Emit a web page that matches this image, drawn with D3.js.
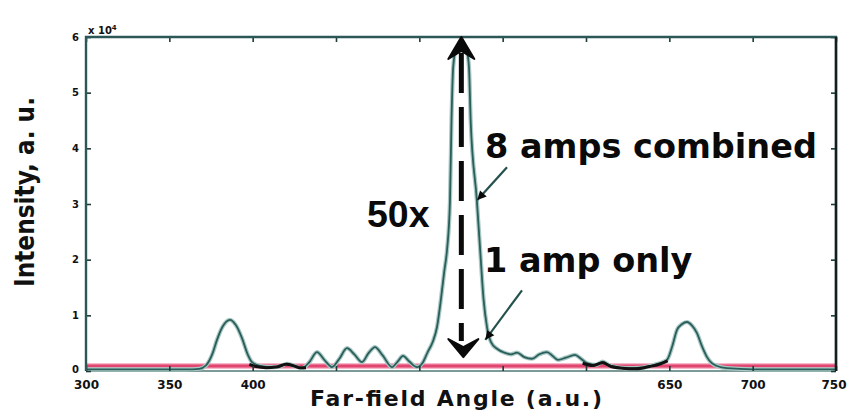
<!DOCTYPE html>
<html>
<head>
<meta charset="utf-8">
<script src="https://cdn.jsdelivr.net/npm/d3@7"></script>
<style>
  html, body { margin: 0; padding: 0; background: #ffffff; }
  svg { display: block; }
</style>
</head>
<body>
<svg id="chart" width="847" height="415"></svg>
<script>
// Far-field angle samples (a.u.) and intensity of the 8-amplifier combined beam (x 10^4)
const angles = [300, 330, 360, 368, 372, 376, 378.6, 382, 386.4, 390, 393.6, 397, 399.6, 404.4, 410, 416,
  420.6, 425, 429.6, 434, 438.6, 443, 447.6, 452, 456.6, 461, 465.6, 469.5, 473.4, 478, 483.6, 487,
  490.2, 494, 498.6, 502, 505, 508, 510.6, 513, 515, 516.6, 518.4, 519.3, 520.3, 522, 525.6, 528.5,
  529.8, 530.8, 534.5, 536.5, 538.5, 540.6, 543, 546.6, 551, 555, 558.6, 563, 567.6, 572, 576.6, 580,
  583.2, 588, 593.4, 597, 600.6, 606, 610, 614, 620, 628, 636, 642, 648.6, 651.6, 654.6, 657.5, 660.6,
  663.5, 666.6, 669.5, 672.6, 675.5, 678.6, 684.6, 700, 750];
const combined = [0.03, 0.03, 0.03, 0.04, 0.1, 0.32, 0.56, 0.8, 0.92, 0.82, 0.59, 0.3, 0.16, 0.09, 0.07, 0.08,
  0.13, 0.09, 0.05, 0.16, 0.34, 0.2, 0.07, 0.22, 0.41, 0.3, 0.16, 0.32, 0.43, 0.28, 0.07, 0.17,
  0.27, 0.17, 0.07, 0.15, 0.34, 0.52, 0.79, 1.3, 1.8, 2.17, 3.07, 4.5, 5.45, 5.78, 5.88, 5.75,
  5.45, 4.5, 3.07, 2.17, 1.3, 0.79, 0.52, 0.4, 0.33, 0.3, 0.33, 0.25, 0.22, 0.3, 0.34, 0.27,
  0.2, 0.24, 0.29, 0.22, 0.14, 0.11, 0.17, 0.1, 0.06, 0.05, 0.07, 0.12, 0.2, 0.43, 0.74, 0.84, 0.88,
  0.82, 0.68, 0.45, 0.25, 0.14, 0.09, 0.05, 0.03, 0.03];

// Single amplifier: flat, about 1/50 of the combined peak
const oneAmpAngles = [300, 750];
const oneAmp = [0.09, 0.09];

// Dark residual traces lying along the floor on either side of the main lobe
const residualLeftAngles = [398, 402, 408, 414, 420, 424, 428, 432];
const residualLeft = [0.12, 0.08, 0.06, 0.07, 0.12, 0.1, 0.06, 0.06];
const residualRightAngles = [598, 604, 610, 615, 622, 630, 638, 644, 649];
const residualRight = [0.14, 0.1, 0.15, 0.08, 0.05, 0.04, 0.08, 0.12, 0.18];

// Axes
const xTicks = [300, 350, 400, 450, 500, 550, 600, 650, 700, 750];
const xTickLabels = [300, 350, 400, 650, 700, 750];
const yTicks = [0, 1, 2, 3, 4, 5, 6];

// Annotation anchors (data units)
const arrowAngle = 525.2;
const arrowTop = 6;
const arrowBottom = 0.25;
const combinedPointer = { from: [552.6, 3.66], to: [534.8, 3.07] };
const singlePointer = { from: [561.6, 1.45], to: [539.6, 0.56] };

const svg = d3.select("#chart");
const plot = { left: 86, right: 836, top: 37, bottom: 371 };

const x = d3.scaleLinear().domain([300, 750]).range([plot.left, plot.right]);
const y = d3.scaleLinear().domain([0, 6]).range([plot.bottom, plot.top]);

const axisColor = "#2b5856";
const fontBold = "'DejaVu Sans', Verdana, sans-serif";

// ----- curves -----
const line = d3.line().x(d => x(d[0])).y(d => y(d[1])).curve(d3.curveMonotoneX);
const combinedPts = angles.map((a, i) => [a, combined[i]]);
const onePts = oneAmpAngles.map((a, i) => [a, oneAmp[i]]);

// bottom axis line (lighter, beneath the pink trace)
svg.append("line")
  .attr("x1", plot.left).attr("x2", plot.right)
  .attr("y1", plot.bottom).attr("y2", plot.bottom)
  .attr("stroke", "#7d9a98").attr("stroke-width", 2);

// 1 amp only trace
svg.append("path").datum(onePts).attr("d", line)
  .attr("fill", "none").attr("stroke", "#f2a2ba").attr("stroke-width", 5.5);
svg.append("path").datum(onePts).attr("d", line)
  .attr("fill", "none").attr("stroke", "#e2456f").attr("stroke-width", 3.2);

// 8 amps combined trace
svg.append("path").datum(combinedPts).attr("d", line)
  .attr("fill", "none").attr("stroke", "#a9c8c4").attr("stroke-width", 4.2)
  .attr("stroke-linejoin", "round");
svg.append("path").datum(combinedPts).attr("d", line)
  .attr("fill", "none").attr("stroke", "#2a5e5a").attr("stroke-width", 1.8)
  .attr("stroke-linejoin", "round");

// residual dark traces
[[residualLeftAngles, residualLeft], [residualRightAngles, residualRight]].forEach(([as, vs]) => {
  svg.append("path").datum(as.map((a, i) => [a, vs[i]])).attr("d", line)
    .attr("fill", "none").attr("stroke", "#111").attr("stroke-width", 3)
    .attr("stroke-linejoin", "round");
});

// ----- frame and ticks -----
const gx = svg.append("g").attr("transform", `translate(0,${plot.bottom})`)
  .call(d3.axisBottom(x).tickValues(xTicks).tickSizeInner(-5).tickSizeOuter(0).tickPadding(9)
    .tickFormat(d => xTickLabels.includes(d) ? d3.format("d")(d) : ""));
const gxt = svg.append("g").attr("transform", `translate(0,${plot.top})`)
  .call(d3.axisTop(x).tickValues(xTicks).tickSizeInner(-5).tickSizeOuter(0).tickFormat(""));
const gy = svg.append("g").attr("transform", `translate(${plot.left},0)`)
  .call(d3.axisLeft(y).tickValues(yTicks).tickSizeInner(-5).tickSizeOuter(0).tickPadding(7)
    .tickFormat(d3.format("d")));
const gyr = svg.append("g").attr("transform", `translate(${plot.right},0)`)
  .call(d3.axisRight(y).tickValues(yTicks).tickSizeInner(-5).tickSizeOuter(0).tickFormat(""));

[gx, gxt, gy, gyr].forEach(g => {
  g.select(".domain").remove();
  g.selectAll(".tick line").attr("stroke", "#1d3c3a").attr("stroke-width", 1.6);
});
gx.selectAll(".tick text").attr("font-family", fontBold).attr("font-weight", "bold")
  .attr("font-size", 12).attr("fill", "#111");
// the last label sits against the right edge
gx.selectAll(".tick").filter(d => d === 750).select("text")
  .attr("text-anchor", "end").attr("x", 10);
gy.selectAll(".tick text").attr("font-family", fontBold).attr("font-weight", "bold")
  .attr("font-size", 10).attr("fill", "#111");
gy.selectAll(".tick").filter(d => d === 0).select("text").attr("dy", "0.1em");

// left, top, right edges of the box
svg.append("path")
  .attr("d", `M${plot.left},${plot.bottom} V${plot.top} H${plot.right} V${plot.bottom}`)
  .attr("fill", "none").attr("stroke", axisColor).attr("stroke-width", 2.4);
svg.append("line")
  .attr("x1", plot.right).attr("x2", plot.right).attr("y1", plot.top).attr("y2", plot.bottom)
  .attr("stroke", "#141e1e").attr("stroke-width", 2.4);

// exponent label
const ex = svg.append("text").attr("x", plot.left + 2).attr("y", plot.top - 3)
  .attr("font-family", fontBold).attr("font-weight", "bold").attr("font-size", 10).attr("fill", "#111");
ex.append("tspan").text("x 10");
ex.append("tspan").attr("dy", -4).attr("font-size", 7).text("4");

// ----- 50x double arrow -----
const ax = x(arrowAngle);
const yTop = y(arrowTop), yBot = y(arrowBottom);
svg.append("line")
  .attr("x1", ax).attr("x2", ax).attr("y1", yTop + 16).attr("y2", yBot - 16)
  .attr("stroke", "#0a0a0a").attr("stroke-width", 5).attr("stroke-dasharray", "40,14");
svg.append("path")
  .attr("d", `M${ax},${yTop} L${ax + 13},${yTop + 22} L${ax},${yTop + 14} L${ax - 13},${yTop + 22} Z`)
  .attr("fill", "#0a0a0a").attr("stroke", "#0a0a0a").attr("stroke-width", 2).attr("stroke-linejoin", "round");
svg.append("path")
  .attr("d", `M${ax + 2},${yBot} L${ax + 17},${yBot - 18} L${ax + 2},${yBot - 10} L${ax - 13},${yBot - 18} Z`)
  .attr("fill", "#0a0a0a").attr("stroke", "#0a0a0a").attr("stroke-width", 2).attr("stroke-linejoin", "round");

// ----- pointers -----
function pointer(p) {
  const x1 = x(p.from[0]), y1 = y(p.from[1]), x2 = x(p.to[0]), y2 = y(p.to[1]);
  svg.append("line").attr("x1", x1).attr("y1", y1).attr("x2", x2).attr("y2", y2)
    .attr("stroke", "#24504d").attr("stroke-width", 2.2);
  const ang = Math.atan2(y2 - y1, x2 - x1);
  const L = 9, Wd = 4.5;
  const bx = x2 - L * Math.cos(ang), by = y2 - L * Math.sin(ang);
  const px = -Math.sin(ang) * Wd, py = Math.cos(ang) * Wd;
  svg.append("path")
    .attr("d", `M${x2},${y2} L${bx + px},${by + py} L${bx - px},${by - py} Z`)
    .attr("fill", "#0a0a0a");
}
pointer(combinedPointer);
pointer(singlePointer);

// ----- annotation labels -----
svg.append("text").attr("x", 485).attr("y", 158)
  .attr("font-family", fontBold).attr("font-weight", "bold").attr("font-size", 33.5)
  .attr("fill", "#0a0a0a").text("8 amps combined");
svg.append("text").attr("x", 484).attr("y", 272)
  .attr("font-family", fontBold).attr("font-weight", "bold").attr("font-size", 33.5)
  .attr("fill", "#0a0a0a").text("1 amp only");
svg.append("text").attr("x", 367).attr("y", 227)
  .attr("font-family", "'Liberation Sans', Arial, sans-serif").attr("font-weight", "bold").attr("font-size", 37.5)
  .attr("fill", "#0a0a0a").text("50x");

// ----- axis titles -----
svg.append("text")
  .attr("transform", `translate(34,192) rotate(-90)`)
  .attr("text-anchor", "middle")
  .attr("font-family", fontBold).attr("font-weight", "bold").attr("font-size", 27)
  .attr("textLength", 190).attr("lengthAdjust", "spacingAndGlyphs")
  .attr("fill", "#111").text("Intensity, a. u.");
svg.append("text").attr("x", 310).attr("y", 406)
  .attr("font-family", fontBold).attr("font-weight", "bold").attr("font-size", 22)
  .attr("textLength", 292).attr("lengthAdjust", "spacing")
  .attr("fill", "#111").text("Far-field Angle (a.u.)");
</script>
</body>
</html>
